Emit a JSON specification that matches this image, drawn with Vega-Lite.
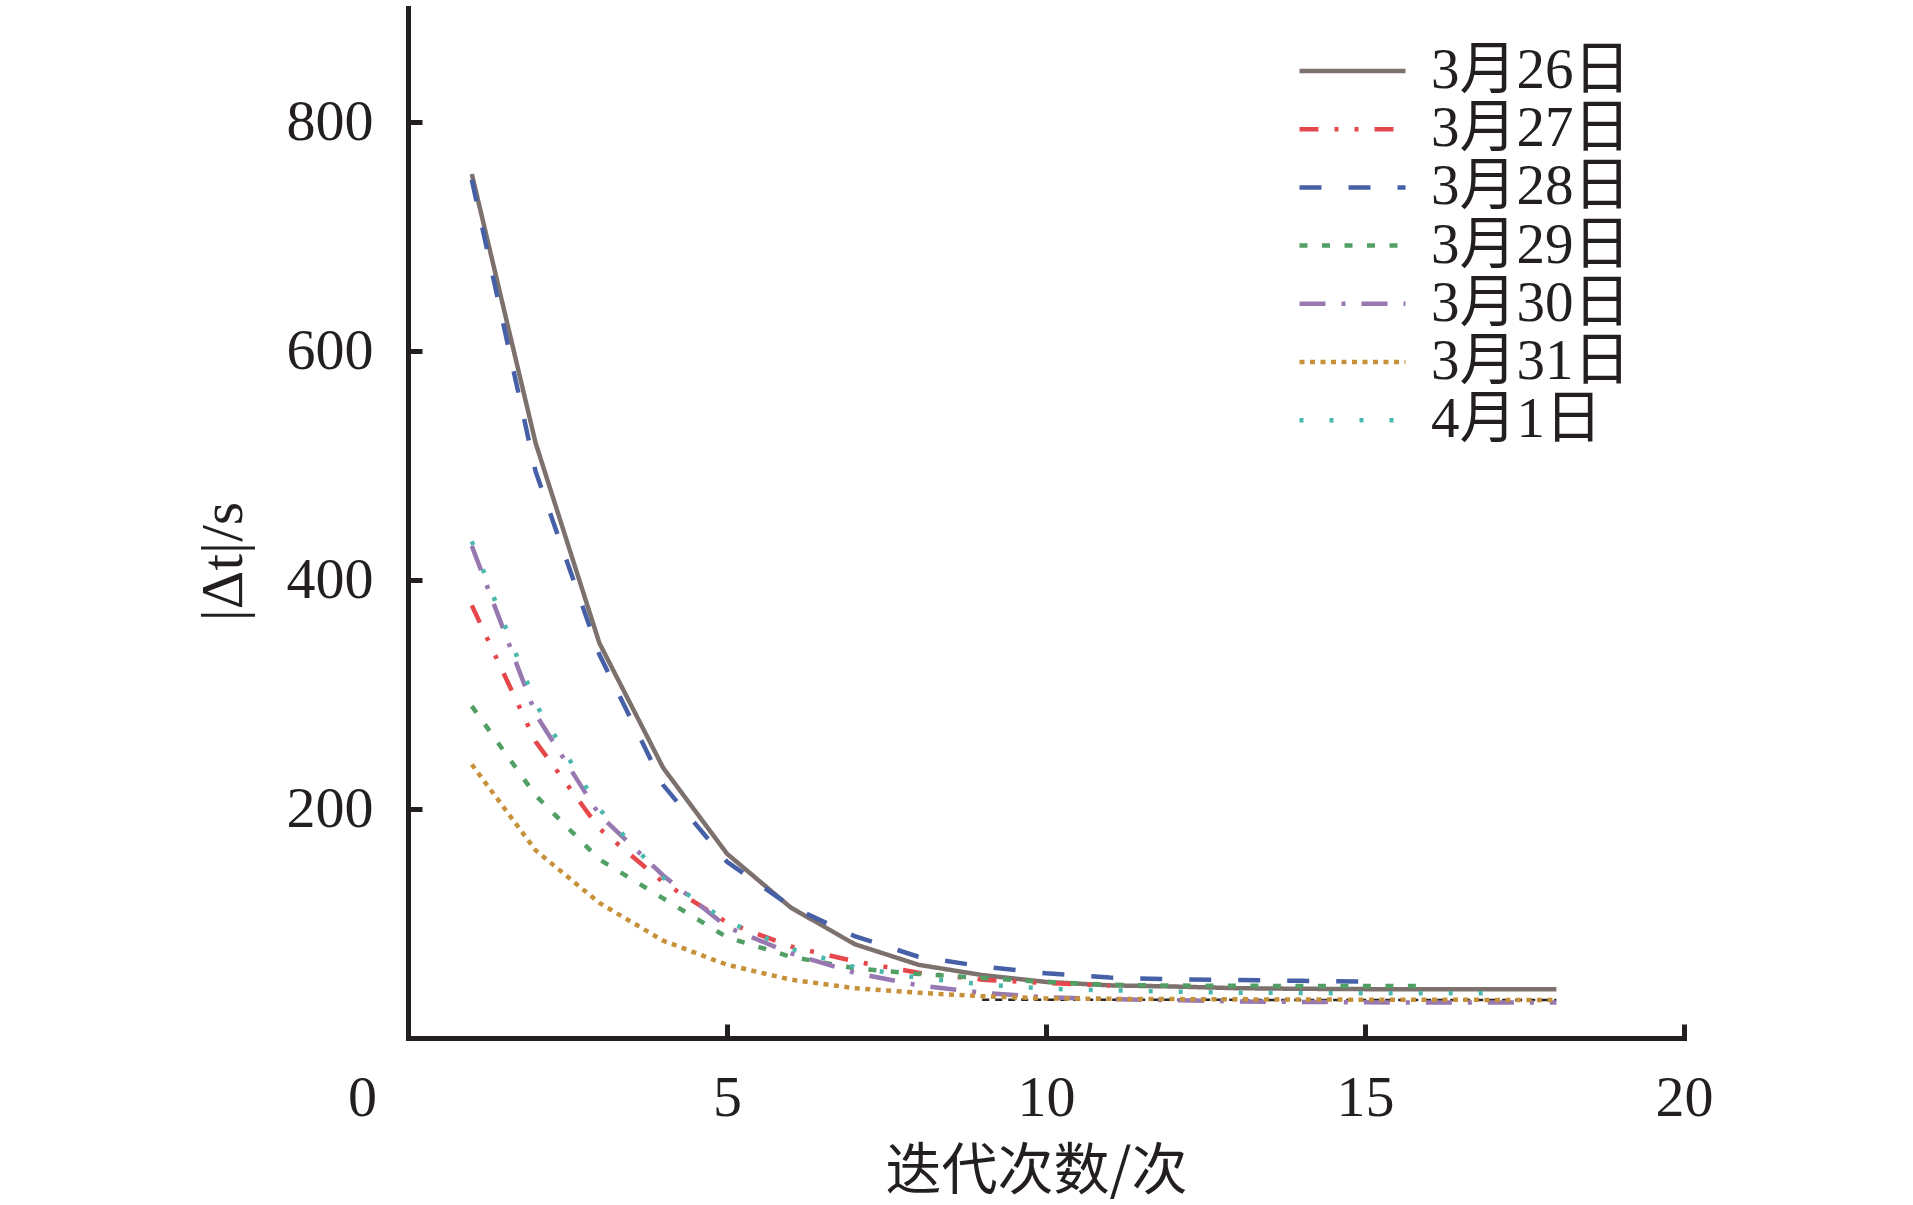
{
  "$schema": "https://vega.github.io/schema/vega-lite/v6.json",
  "width": 1276,
  "height": 1030,
  "autosize": {"type": "none"},
  "padding": {"left": 408, "top": 8, "right": 229, "bottom": 167},
  "background": "white",
  "config": {
    "view": {"stroke": null},
    "axis": {
      "grid": false,
      "domainColor": "#231f20",
      "domainWidth": 5,
      "domainCap": "square",
      "tickColor": "#231f20",
      "tickWidth": 5,
      "tickSize": -14,
      "labelFont": "Liberation Serif",
      "labelFontSize": 58,
      "labelColor": "#231f20",
      "labelFlush": false,
      "titleColor": "#231f20",
      "titleFontWeight": "normal"
    },
    "legend": {
      "title": null,
      "orient": "none",
      "legendX": 889,
      "legendY": 34,
      "symbolType": "stroke",
      "symbolSize": 11236,
      "symbolStrokeWidth": 4.5,
      "clipHeight": 58,
      "rowPadding": 0.2,
      "labelOffset": 23,
      "labelLimit": 0,
      "labelFont": "Liberation Serif, Noto Sans CJK SC",
      "labelFontSize": 57,
      "labelColor": "#231f20"
    }
  },
  "datasets": {
    "curves": [
      {"day": "3月26日", "iter": 1, "dt": 755},
      {"day": "3月26日", "iter": 2, "dt": 520},
      {"day": "3月26日", "iter": 3, "dt": 345},
      {"day": "3月26日", "iter": 4, "dt": 236},
      {"day": "3月26日", "iter": 5, "dt": 161},
      {"day": "3月26日", "iter": 6, "dt": 114},
      {"day": "3月26日", "iter": 7, "dt": 82},
      {"day": "3月26日", "iter": 8, "dt": 64},
      {"day": "3月26日", "iter": 9, "dt": 55},
      {"day": "3月26日", "iter": 10, "dt": 49},
      {"day": "3月26日", "iter": 11, "dt": 46},
      {"day": "3月26日", "iter": 12, "dt": 45},
      {"day": "3月26日", "iter": 13, "dt": 43.5},
      {"day": "3月26日", "iter": 14, "dt": 43},
      {"day": "3月26日", "iter": 15, "dt": 42.7},
      {"day": "3月26日", "iter": 16, "dt": 42.5},
      {"day": "3月26日", "iter": 17, "dt": 42.5},
      {"day": "3月26日", "iter": 18, "dt": 42.5},
      {"day": "3月27日", "iter": 1, "dt": 378},
      {"day": "3月27日", "iter": 2, "dt": 259},
      {"day": "3月27日", "iter": 3, "dt": 183},
      {"day": "3月27日", "iter": 4, "dt": 136},
      {"day": "3月27日", "iter": 5, "dt": 101},
      {"day": "3月27日", "iter": 6, "dt": 80},
      {"day": "3月27日", "iter": 7, "dt": 67},
      {"day": "3月27日", "iter": 8, "dt": 57},
      {"day": "3月27日", "iter": 9, "dt": 51},
      {"day": "3月27日", "iter": 10, "dt": 48},
      {"day": "3月27日", "iter": 11, "dt": 45.8},
      {"day": "3月28日", "iter": 1, "dt": 750},
      {"day": "3月28日", "iter": 2, "dt": 495},
      {"day": "3月28日", "iter": 3, "dt": 335},
      {"day": "3月28日", "iter": 4, "dt": 221},
      {"day": "3月28日", "iter": 5, "dt": 154},
      {"day": "3月28日", "iter": 6, "dt": 115},
      {"day": "3月28日", "iter": 7, "dt": 89},
      {"day": "3月28日", "iter": 8, "dt": 71},
      {"day": "3月28日", "iter": 9, "dt": 62.5},
      {"day": "3月28日", "iter": 10, "dt": 56.5},
      {"day": "3月28日", "iter": 11, "dt": 52.8},
      {"day": "3月28日", "iter": 12, "dt": 51.3},
      {"day": "3月28日", "iter": 13, "dt": 50.6},
      {"day": "3月28日", "iter": 14, "dt": 50},
      {"day": "3月28日", "iter": 15, "dt": 49.3},
      {"day": "3月29日", "iter": 1, "dt": 290},
      {"day": "3月29日", "iter": 2, "dt": 212},
      {"day": "3月29日", "iter": 3, "dt": 156},
      {"day": "3月29日", "iter": 4, "dt": 122},
      {"day": "3月29日", "iter": 5, "dt": 88},
      {"day": "3月29日", "iter": 6, "dt": 71},
      {"day": "3月29日", "iter": 7, "dt": 61},
      {"day": "3月29日", "iter": 8, "dt": 56},
      {"day": "3月29日", "iter": 9, "dt": 52.5},
      {"day": "3月29日", "iter": 10, "dt": 49},
      {"day": "3月29日", "iter": 11, "dt": 46.5},
      {"day": "3月29日", "iter": 12, "dt": 45.8},
      {"day": "3月29日", "iter": 13, "dt": 45.6},
      {"day": "3月29日", "iter": 14, "dt": 45.5},
      {"day": "3月29日", "iter": 15, "dt": 45.5},
      {"day": "3月29日", "iter": 16, "dt": 45.4},
      {"day": "3月30日", "iter": 1, "dt": 430},
      {"day": "3月30日", "iter": 2, "dt": 283},
      {"day": "3月30日", "iter": 3, "dt": 195},
      {"day": "3月30日", "iter": 4, "dt": 142},
      {"day": "3月30日", "iter": 5, "dt": 97},
      {"day": "3月30日", "iter": 6, "dt": 74},
      {"day": "3月30日", "iter": 7, "dt": 57},
      {"day": "3月30日", "iter": 8, "dt": 46},
      {"day": "3月30日", "iter": 9, "dt": 39.6},
      {"day": "3月30日", "iter": 10, "dt": 35.6},
      {"day": "3月30日", "iter": 11, "dt": 34},
      {"day": "3月30日", "iter": 12, "dt": 33},
      {"day": "3月30日", "iter": 13, "dt": 32},
      {"day": "3月30日", "iter": 14, "dt": 31.5},
      {"day": "3月30日", "iter": 15, "dt": 31.2},
      {"day": "3月30日", "iter": 16, "dt": 31},
      {"day": "3月30日", "iter": 17, "dt": 31},
      {"day": "3月30日", "iter": 18, "dt": 31},
      {"day": "3月31日", "iter": 1, "dt": 239},
      {"day": "3月31日", "iter": 2, "dt": 164},
      {"day": "3月31日", "iter": 3, "dt": 118},
      {"day": "3月31日", "iter": 4, "dt": 85},
      {"day": "3月31日", "iter": 5, "dt": 64},
      {"day": "3月31日", "iter": 6, "dt": 51},
      {"day": "3月31日", "iter": 7, "dt": 43.5},
      {"day": "3月31日", "iter": 8, "dt": 39.5},
      {"day": "3月31日", "iter": 9, "dt": 36.5},
      {"day": "3月31日", "iter": 10, "dt": 34.6},
      {"day": "3月31日", "iter": 11, "dt": 34.2},
      {"day": "3月31日", "iter": 12, "dt": 34},
      {"day": "3月31日", "iter": 13, "dt": 33.8},
      {"day": "3月31日", "iter": 14, "dt": 33.6},
      {"day": "3月31日", "iter": 15, "dt": 33.5},
      {"day": "3月31日", "iter": 16, "dt": 33.4},
      {"day": "3月31日", "iter": 17, "dt": 33.3},
      {"day": "3月31日", "iter": 18, "dt": 33.3},
      {"day": "4月1日", "iter": 1, "dt": 434},
      {"day": "4月1日", "iter": 2, "dt": 292},
      {"day": "4月1日", "iter": 3, "dt": 200},
      {"day": "4月1日", "iter": 4, "dt": 140},
      {"day": "4月1日", "iter": 5, "dt": 102},
      {"day": "4月1日", "iter": 6, "dt": 78},
      {"day": "4月1日", "iter": 7, "dt": 62},
      {"day": "4月1日", "iter": 8, "dt": 52.5},
      {"day": "4月1日", "iter": 9, "dt": 47},
      {"day": "4月1日", "iter": 10, "dt": 43},
      {"day": "4月1日", "iter": 11, "dt": 41.7},
      {"day": "4月1日", "iter": 12, "dt": 40.5},
      {"day": "4月1日", "iter": 13, "dt": 39.6},
      {"day": "4月1日", "iter": 14, "dt": 39.3},
      {"day": "4月1日", "iter": 15, "dt": 39},
      {"day": "4月1日", "iter": 16, "dt": 39},
      {"day": "4月1日", "iter": 17, "dt": 39}
    ],
    "dark": [
      {"iter": 9, "dt": 33.4},
      {"iter": 18, "dt": 33.2}
    ]
  },
  "encoding": {
    "x": {
      "field": "iter",
      "type": "quantitative",
      "scale": {"domain": [0, 20], "nice": false},
      "axis": {
        "title": "迭代次数/次",
        "titleFont": "Noto Sans CJK SC",
        "titleFontSize": 56,
        "titleX": 628,
        "titleY": 133,
        "titleBaseline": "middle",
        "values": [0, 5, 10, 15, 20],
        "labelPadding": 45,
        "labelOffset": {"condition": {"test": "datum.value === 0", "value": -46}, "value": 0}
      }
    },
    "y": {
      "field": "dt",
      "type": "quantitative",
      "scale": {"domain": [0, 900], "nice": false},
      "axis": {
        "title": "|Δt|/s",
        "titleFont": "Liberation Serif",
        "titleFontSize": 60,
        "titleX": -185,
        "titleY": 553,
        "titleBaseline": "middle",
        "values": [200, 400, 600, 800],
        "labelPadding": 49
      }
    }
  },
  "layer": [
    {
      "data": {"name": "dark"},
      "mark": {"type": "line", "color": "#2a2626", "strokeWidth": 2.5, "strokeDash": [7, 6]}
    },
    {
      "data": {"name": "curves"},
      "mark": {"type": "line", "strokeWidth": 4.5},
      "encoding": {
        "color": {
          "field": "day",
          "type": "nominal",
          "scale": {
            "domain": ["3月26日", "3月27日", "3月28日", "3月29日", "3月30日", "3月31日", "4月1日"],
            "range": ["#7d716e", "#e5474b", "#4660a8", "#519f65", "#9878b0", "#c79139", "#4ab8ad"]
          }
        },
        "strokeDash": {
          "field": "day",
          "type": "nominal",
          "scale": {
            "domain": ["3月26日", "3月27日", "3月28日", "3月29日", "3月30日", "3月31日", "4月1日"],
            "range": [[1, 0], [19, 16, 4, 16, 4, 16], [22, 27], [8, 14.5], [26, 16, 4, 16], [5, 5.5], [4, 26]]
          }
        }
      }
    }
  ]
}
